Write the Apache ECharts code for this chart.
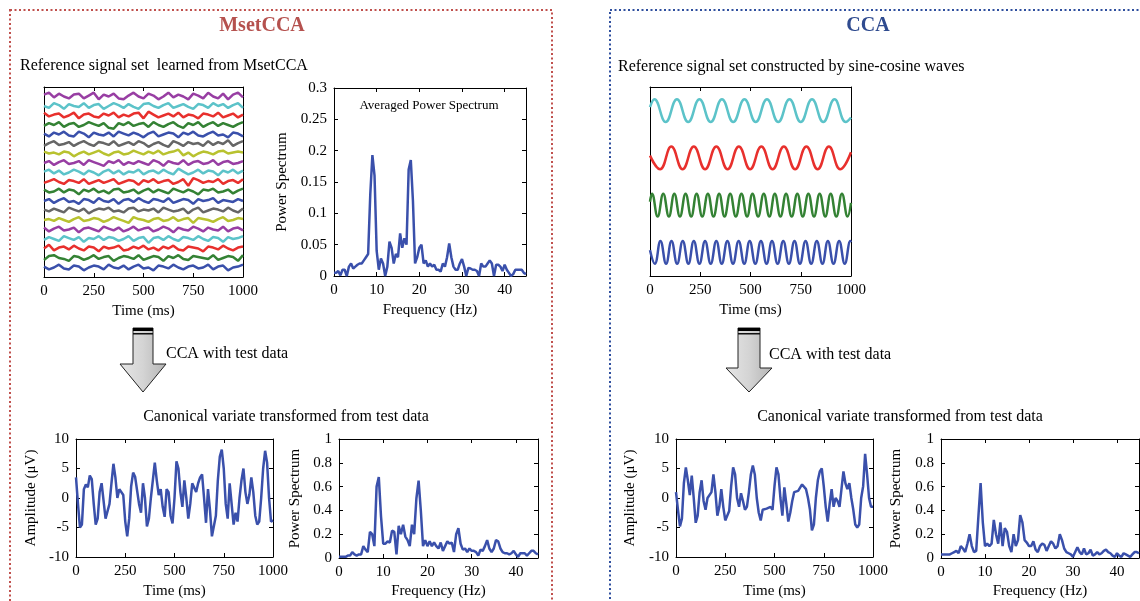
<!DOCTYPE html>
<html><head><meta charset="utf-8">
<script src="https://cdn.jsdelivr.net/npm/echarts@6/dist/echarts.min.js"></script>
<style>html,body{margin:0;padding:0;background:#fff}#c{width:1140px;height:601px}</style>
</head><body><div id="c"></div><script>
// ---------------- DATA ----------------
// MsetCCA learned reference signals (top to bottom), amplitude in tenths of a row, sampled every 25 ms
const refColorsOrder = ['m','c','r','g','b','k','y','m','c','r','g','b','k','y','m','c','r','g','b'];
const refLines = [
 [2,4,-1,3,0,-2,2,3,-2,1,4,-3,2,0,3,-2,-3,1,4,0,-2,3,1,-3,0,4,-1,2,0,-3,3,1,-2,4,0,-2,3,-3,2,4,-1],
 [0,-2,3,1,-3,2,0,-1,3,-2,1,2,-3,0,3,1,-2,2,-1,-3,2,3,0,-2,1,3,-2,0,2,-1,-3,2,1,-2,3,0,2,-2,1,3,-2],
 [3,-1,1,2,-2,0,3,-3,1,2,-1,-2,2,0,3,-2,1,-1,2,3,-3,4,1,-2,0,2,-1,3,-2,1,0,-3,2,1,-1,3,-2,0,2,-2,1],
 [-1,2,0,3,-2,1,2,-2,0,3,1,-1,2,-3,-4,2,0,3,-1,1,2,-2,3,0,-2,1,3,-1,-3,2,0,3,-2,1,3,-1,2,0,-2,1,3],
 [1,-2,2,0,3,-1,-2,3,1,-3,2,0,-1,2,-2,3,1,-1,2,0,-3,1,3,-2,0,2,1,-3,2,0,3,-1,-2,1,3,-1,0,-3,2,1,-2],
 [-2,1,3,-1,0,2,-2,1,3,0,-2,2,1,-1,3,-2,0,2,-1,3,1,-3,0,2,-1,-3,3,1,-2,2,0,1,-2,3,-1,2,0,4,-2,1,3],
 [2,0,1,-1,2,1,-3,0,2,-1,1,3,0,-2,1,2,-1,0,3,1,-1,2,0,3,-1,1,2,4,-2,1,-3,0,2,1,-1,2,3,0,1,2,1],
 [0,2,-2,1,3,-1,0,2,-2,3,1,-1,-3,2,0,3,-2,1,-1,2,0,-2,3,1,-3,2,0,-1,3,-2,1,2,-1,0,3,-2,1,2,-1,0,2],
 [1,3,-1,2,-2,0,3,1,-2,2,0,-3,1,3,-1,2,-2,1,0,3,-2,1,2,-1,3,0,-2,4,1,-2,0,3,-1,2,1,-3,2,0,3,-1,2],
 [-1,1,3,0,-2,2,1,-1,3,-2,0,2,-1,1,3,-2,0,2,1,-3,2,0,3,-1,1,2,-2,0,3,-4,4,2,-1,1,0,3,-2,1,2,-1,3],
 [2,-1,0,3,-1,2,1,-3,2,0,3,-1,1,-2,2,3,-1,0,2,-2,1,3,-1,2,0,-2,3,1,-1,2,0,-3,2,1,3,-1,0,2,-2,1,3],
 [0,2,-2,1,3,-1,0,-3,2,1,-2,3,0,-1,2,-3,1,2,-1,3,0,-2,2,1,-1,3,-2,0,2,1,-3,2,0,1,3,-2,1,0,-1,2,0],
 [1,-1,2,0,-2,3,1,-1,2,-3,0,2,1,3,-1,0,-2,2,3,-1,1,0,2,-2,3,1,-1,0,2,-3,1,3,-2,0,2,1,-1,3,0,-2,2],
 [0,1,-1,2,0,-2,1,3,-1,0,2,1,-2,0,3,1,-1,-3,3,1,0,-2,1,2,-1,0,3,-1,1,2,-3,2,1,0,-2,1,3,-1,0,2,1],
 [2,-2,1,3,-1,0,2,-3,1,2,0,-2,3,1,-1,2,-2,0,3,-1,1,2,-2,0,3,1,-3,2,0,-1,3,1,-2,2,0,-1,3,-2,1,2,-1],
 [-1,2,0,-2,3,1,-1,2,-3,1,0,3,-1,2,1,-2,0,3,-2,1,2,-4,1,2,-1,3,0,-2,2,1,-1,3,0,-2,2,1,-3,2,0,1,3],
 [0,4,-2,1,2,-1,3,0,-2,2,1,-3,2,0,1,3,-2,-1,2,0,3,-1,1,-2,2,0,3,-1,-2,2,1,0,-3,2,1,-1,3,0,-2,1,2],
 [-2,2,3,0,-1,-3,2,1,-2,0,3,-1,1,2,-3,0,2,1,-1,3,-2,0,2,1,-3,2,0,3,-1,-2,2,1,0,-1,3,-2,0,2,1,-3,3],
 [1,-2,0,3,-1,-2,2,1,-3,0,2,1,-2,3,0,-1,2,-2,1,3,-1,0,-3,2,1,-1,3,0,-2,1,2,-1,0,3,-2,1,2,-3,0,1,3]
];
// Averaged power spectrum (0..45 Hz, 0.5 Hz steps)
const avgSpec = [
 0.005,0.005,0.008,0.001,0.01,0.01,0.0,0.015,0.02,0.012,
 0.015,0.018,0.02,0.02,0.025,0.03,0.035,0.13,0.193,0.16,
 0.04,0.01,0.028,0.02,0.0,0.015,0.055,0.045,0.02,0.035,
 0.03,0.068,0.045,0.06,0.05,0.17,0.185,0.12,0.02,0.03,
 0.045,0.05,0.02,0.025,0.015,0.02,0.015,0.018,0.01,0.01,
 0.007,0.02,0.015,0.03,0.052,0.03,0.015,0.01,0.01,0.02,
 0.027,0.015,0.0,0.013,0.012,0.01,0.01,0.008,0.0,0.02,
 0.015,0.015,0.02,0.025,0.02,0.0,0.018,0.018,0.015,0.008,
 0.018,0.01,0.005,0.0,0.003,0.01,0.01,0.01,0.01,0.005,
 0.003];
// MsetCCA canonical variate (µV), 10 ms steps
const msetTest = [
 3.5,-1,-5,-4.5,1.5,2.3,1.8,3.8,3.2,-1,
 -4.5,-3.5,1,2.5,-0.5,-3.5,-3.8,-1,2.5,5.8,
 3.5,0,1.5,1.5,0.5,-4,-6.5,-3.5,2,4.3,
 3.6,3.8,-1,-2.5,2.5,0,-4.8,-3.5,0,3,
 6,3,0.5,1.5,-1.5,-3.2,1.5,1,-3,-4.3,
 0,6.2,5,1,-1.5,3,0,-3.5,-1,2.5,
 2.3,1,2.5,3.5,4,0,-4.2,1.5,-2,-6.5,
 -6.3,-3,3,7,8.2,5,-1,-3.5,2.5,-1,
 -4.5,-2.5,-4,0,3,5,1,-1,0.5,3.5,
 1,-3,-4.5,-4,0,5,8,6,0,-4,
 -3.8];
// MsetCCA canonical variate power spectrum (0.5 Hz steps)
const msetSpec = [
 0.01,0.01,0.01,0.01,0.02,0.02,0.05,0.03,0.02,0.03,
 0.03,0.1,0.07,0.05,0.22,0.2,0.1,0.6,0.68,0.35,
 0.12,0.12,0.14,0.13,0.23,0.22,0.03,0.27,0.2,0.28,
 0.18,0.15,0.1,0.28,0.2,0.5,0.65,0.4,0.1,0.15,
 0.1,0.14,0.1,0.13,0.1,0.08,0.13,0.06,0.1,0.14,
 0.12,0.13,0.05,0.2,0.25,0.12,0.07,0.08,0.05,0.08,
 0.06,0.06,0.05,0.02,0.07,0.06,0.1,0.15,0.08,0.05,
 0.08,0.15,0.14,0.08,0.05,0.04,0.04,0.03,0.04,0.06,
 0.03,0.01,0.04,0.04,0.04,0.02,0.04,0.06,0.06,0.04,
 0.03];
// CCA sine-cosine references: [time ms, normalized value] at extrema
const cyanWave = [[0,0.3],[22,1],[78,-1],[134,1],[190,-1],[246,1],[302,-1],[358,1],[414,-1],[470,1],[526,-1],[582,1],[638,-1],[694,1],[750,-1],[806,1],[862,-1],[918,1],[974,-1],[1000,-0.6]];
const redWave = [[0,0.2],[50,-1],[106,1],[162,-1],[218,1],[274,-1],[330,1],[386,-1],[442,1],[498,-1],[554,1],[610,-1],[666,1],[722,-1],[778,1],[834,-1],[890,1],[946,-1],[1000,0.5]];
const greenWave = [[0,0.3],[10,1],[38,-1],[66,1],[94,-1],[121,1],[149,-1],[177,1],[205,-1],[232,1],[260,-1],[288,1],[316,-1],[344,1],[371,-1],[399,1],[427,-1],[455,1],[483,-1],[510,1],[538,-1],[566,1],[594,-1],[621,1],[649,-1],[677,1],[705,-1],[733,1],[760,-1],[788,1],[816,-1],[844,1],[872,-1],[899,1],[927,-1],[955,1],[983,-1],[1000,0.2]];
const blueWave = [[0,0.2],[24,-1],[52,1],[80,-1],[107,1],[135,-1],[163,1],[191,-1],[218,1],[246,-1],[274,1],[302,-1],[330,1],[357,-1],[385,1],[413,-1],[441,1],[469,-1],[496,1],[524,-1],[552,1],[580,-1],[607,1],[635,-1],[663,1],[691,-1],[719,1],[746,-1],[774,1],[802,-1],[830,1],[858,-1],[885,1],[913,-1],[941,1],[969,-1],[997,1],[1000,0.9]];
// CCA canonical variate (µV), 10 ms steps
const ccaTest = [
 1,-2,-4.8,-3.5,2.5,5.2,3,0.5,3.8,0,
 -4.2,-3,1,3,-0.5,-2,0,0.3,1,4,
 1,-3,-1.5,1.5,-1.5,-3.8,-3,-2.2,2,5.2,
 4,0,-1.5,0.8,-0.5,-2,-1.5,1,4,5.5,
 4,0,-2.5,-3.8,-2,-2,-1.8,-2,-1.5,-2,
 2,5.2,4,0,-3,1.8,-1,-4,-2.5,-0.5,
 1,1,1.2,1.5,2.3,2,1.5,0,-2,-5.5,
 -4.5,0,3,4.5,5,2,-1.5,-4,-1,1.5,
 -1.5,0,-0.5,-1.5,1.5,4.5,2.5,1.5,2.5,0,
 -2,-4.5,-5,-4.5,0,2,7.5,4,0,-1.5,
 -1.5];
// CCA canonical variate power spectrum (0.5 Hz steps)
const ccaSpec = [
 0.03,0.03,0.03,0.03,0.03,0.04,0.05,0.06,0.04,0.1,
 0.08,0.05,0.12,0.2,0.1,0.05,0.06,0.35,0.63,0.3,
 0.1,0.12,0.1,0.12,0.32,0.2,0.12,0.3,0.1,0.25,
 0.22,0.1,0.05,0.2,0.1,0.15,0.36,0.3,0.15,0.13,
 0.1,0.1,0.14,0.07,0.05,0.1,0.12,0.11,0.06,0.1,
 0.14,0.12,0.08,0.1,0.2,0.15,0.08,0.05,0.04,0.03,
 0.01,0.05,0.09,0.05,0.03,0.08,0.03,0.04,0.07,0.02,
 0.03,0.05,0.03,0.04,0.06,0.07,0.05,0.04,0.02,0.01,
 0.04,0.02,0.01,0.04,0.03,0.02,0.01,0.03,0.05,0.05,
 0.04];

// ---------------- STYLE / LAYOUT ----------------
const FONT = '"Liberation Serif","Times New Roman",serif';
const COL = {b:'#3a50ab', g:'#348234', r:'#e8302d', c:'#5cc3c9', m:'#983ea3', y:'#b8c22f', k:'#666666'};
const LINE_BLUE = '#3a50ab';
const grids = [], xAxes = [], yAxes = [], series = [];

function mkAxis(dim, g, c, mirror) {
  const a = {
    type:'value', gridIndex:g, min:c.min, max:c.max, interval:c.interval,
    position: dim==='x' ? (mirror?'top':'bottom') : (mirror?'right':'left'),
    axisLine:{show:true, onZero:false, lineStyle:{color:'#000', width:1}},
    axisTick:{show:c.ticks!==false, inside:true, length:4, lineStyle:{color:'#000', width:1}},
    axisLabel:{show:!mirror && c.labels!==false, color:'#000', fontFamily:FONT, fontSize:15, margin:7,
               showMaxLabel: c.showMax, showMinLabel:true, formatter: v => String(+v.toFixed(4))},
    splitLine:{show:false}
  };
  if (!mirror && c.name) {
    a.name = c.name; a.nameLocation = 'middle'; a.nameGap = c.nameGap;
    a.nameTextStyle = {color:'#000', fontFamily:FONT, fontSize:15};
  }
  return a;
}
function panel(rect, xc, yc) {
  const g = grids.length;
  grids.push(Object.assign({show:false, containLabel:false, outerBoundsMode:'none'}, rect));
  xAxes.push(mkAxis('x', g, xc, false), mkAxis('x', g, xc, true));
  yAxes.push(mkAxis('y', g, yc, false), mkAxis('y', g, yc, true));
  return {xAxisIndex:2*g, yAxisIndex:2*g};
}
function line(ax, data, color, w, smooth) {
  series.push(Object.assign({type:'line', data, showSymbol:false, symbol:'none', smooth: smooth||false,
    lineStyle:{color, width:w||2.3}, itemStyle:{color}, animation:false, silent:true, clip:true}, ax));
}

// Panel 1: MsetCCA reference set
const p1 = panel({left:44, top:87, width:199, height:190},
  {min:0, max:1000, interval:250, name:'Time (ms)', nameGap:27},
  {min:0, max:20, interval:5, ticks:false, labels:false});
refLines.forEach((arr, i) => {
  const base = 19 - i;
  line(p1, arr.map((v, j) => [j * 1000 / (arr.length - 1), base + v / 10]), COL[refColorsOrder[i]], 2.5);
});
// Panel 2: averaged power spectrum
const p2 = panel({left:334, top:88, width:192, height:188},
  {min:0, max:45, interval:10, showMax:false, name:'Frequency (Hz)', nameGap:27},
  {min:0, max:0.3, interval:0.05, name:'Power Spectrum', nameGap:44});
line(p2, avgSpec.map((v, i) => [i * 0.5, v]), LINE_BLUE, 2.5);
// Panel 3: MsetCCA test variate
const p3 = panel({left:76, top:439, width:197, height:118},
  {min:0, max:1000, interval:250, name:'Time (ms)', nameGap:27},
  {min:-10, max:10, interval:5, name:'Amplitude (\u03bcV)', nameGap:37});
line(p3, msetTest.map((v, i) => [i * 1000 / (msetTest.length - 1), v]), LINE_BLUE, 2.5);
// Panel 4: MsetCCA test spectrum
const p4 = panel({left:339, top:439, width:199, height:119},
  {min:0, max:45, interval:10, showMax:false, name:'Frequency (Hz)', nameGap:26},
  {min:0, max:1, interval:0.2, name:'Power Spectrum', nameGap:36});
line(p4, msetSpec.map((v, i) => [i * 0.5, v]), LINE_BLUE, 2.5);
// Panel 5: CCA sine-cosine reference
const p5 = panel({left:650, top:87, width:201, height:189},
  {min:0, max:1000, interval:250, name:'Time (ms)', nameGap:27},
  {min:0, max:4, interval:1, ticks:false, labels:false});
const WAVE_AMP = 0.24;
[[cyanWave, 'c', 3.5], [redWave, 'r', 2.5], [greenWave, 'g', 1.5], [blueWave, 'b', 0.5]].forEach(([w, c, base]) => {
  line(p5, w.map(([t, v]) => [t, base + v * WAVE_AMP]), COL[c], 2.5, 0.45);
});
// Panel 6: CCA test variate
const p6 = panel({left:676, top:439, width:197, height:118},
  {min:0, max:1000, interval:250, name:'Time (ms)', nameGap:27},
  {min:-10, max:10, interval:5, name:'Amplitude (\u03bcV)', nameGap:38});
line(p6, ccaTest.map((v, i) => [i * 1000 / (ccaTest.length - 1), v]), LINE_BLUE, 2.5);
// Panel 7: CCA test spectrum
const p7 = panel({left:941, top:439, width:198, height:119},
  {min:0, max:45, interval:10, showMax:false, name:'Frequency (Hz)', nameGap:26},
  {min:0, max:1, interval:0.2, name:'Power Spectrum', nameGap:37});
line(p7, ccaSpec.map((v, i) => [i * 0.5, v]), LINE_BLUE, 2.5);

// ---------------- GRAPHICS ----------------
function txt(text, x, y, size, opts) {
  opts = opts || {};
  return {type:'text', silent:true, z:10, style:{text, x, y, fill: opts.color || '#000',
    font: (opts.bold ? 'bold ' : '') + size + 'px ' + FONT,
    align: opts.align || 'left', verticalAlign:'middle', textAlign: opts.align || 'left', textVerticalAlign:'middle'}};
}
function arrow(cx, top, headY, tipY, sh, hh) {
  const grad = {type:'linear', x:0, y:0, x2:1, y2:0, colorStops:[{offset:0, color:'#e6e6e6'},{offset:0.5, color:'#d4d4d4'},{offset:1, color:'#b4b4b4'}]};
  return [
    {type:'polygon', silent:true, z:5, shape:{points:[[cx-sh,top],[cx+sh,top],[cx+sh,headY],[cx+hh,headY],[cx,tipY],[cx-hh,headY],[cx-sh,headY]]},
     style:{fill:grad, stroke:'#222', lineWidth:1}},
    {type:'rect', silent:true, z:6, shape:{x:cx-sh, y:top, width:2*sh, height:3}, style:{fill:'#000'}},
    {type:'rect', silent:true, z:6, shape:{x:cx-sh, y:top+5, width:2*sh, height:1.5}, style:{fill:'#111'}}
  ];
}
const elements = [
  {type:'rect', silent:true, shape:{x:10, y:10, width:542, height:640}, style:{fill:'none', stroke:'#c0504d', lineWidth:2, lineDash:[2,2.5]}},
  {type:'rect', silent:true, shape:{x:610, y:10, width:640, height:640}, style:{fill:'none', stroke:'#2f4f9e', lineWidth:2, lineDash:[2,2.5]}},
  txt('MsetCCA', 262, 26, 20, {bold:true, align:'center', color:'#b5514e'}),
  txt('CCA', 868, 26, 20, {bold:true, align:'center', color:'#2f4b8f'}),
  txt('Reference signal set  learned from MsetCCA', 20, 66, 16),
  txt('Reference signal set constructed by sine-cosine waves', 618, 67, 16),
  txt('Averaged Power Spectrum', 429, 106, 13, {align:'center'}),
  txt('CCA with test data', 166, 354, 16),
  txt('CCA with test data', 769, 355, 16),
  txt('Canonical variate transformed from test data', 286, 417, 16, {align:'center'}),
  txt('Canonical variate transformed from test data', 900, 417, 16, {align:'center'})
].concat(arrow(143, 328, 364, 392, 10, 23), arrow(749, 328, 368, 392, 11, 23));

const chart = echarts.init(document.getElementById('c'), null, {renderer:'canvas'});
chart.setOption({
  animation:false, backgroundColor:'#fff',
  grid:grids, xAxis:xAxes, yAxis:yAxes, series,
  graphic:{elements}
});
</script></body></html>
